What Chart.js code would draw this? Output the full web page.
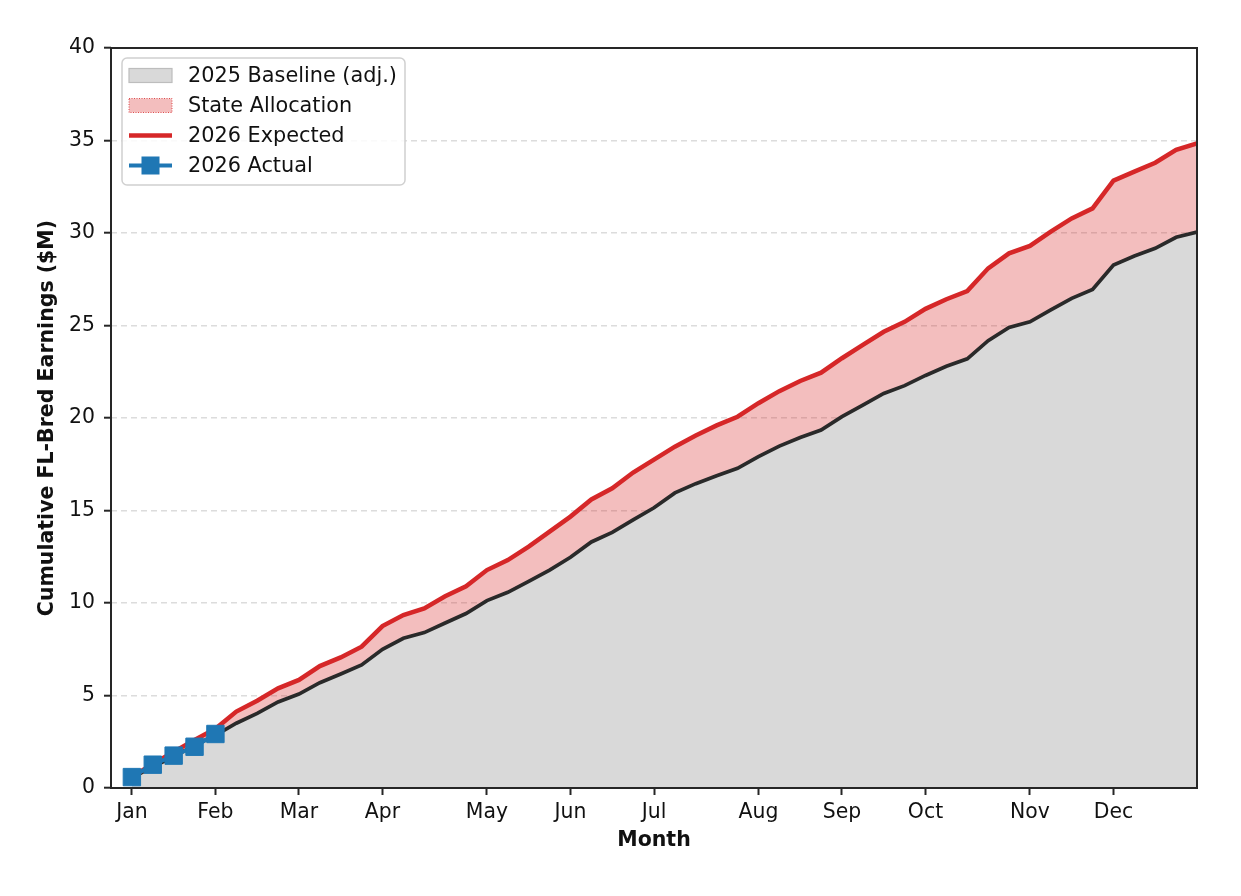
<!DOCTYPE html>
<html>
<head>
<meta charset="utf-8">
<script src="https://cdn.jsdelivr.net/npm/chart.js@4"></script>
<style>
  html,body{margin:0;padding:0;background:#fff;}
  #wrap{width:1241px;height:896px;position:relative;}
</style>
</head>
<body>
<div id="wrap"><canvas id="chart"></canvas></div>
<script>
/* ---------- data (weekly, cumulative $M) ---------- */
const monthTicks  = [0,4,8,12,17,21,25,30,34,38,43,47];
const monthLabels = ['Jan','Feb','Mar','Apr','May','Jun','Jul','Aug','Sep','Oct','Nov','Dec'];

const baseline = [0.55,1.15,1.7,2.3,2.85,3.5,4.03,4.65,5.08,5.69,6.16,6.65,7.5,8.09,8.4,8.92,
  9.43,10.13,10.58,11.17,11.78,12.47,13.3,13.82,14.49,15.15,15.95,16.45,16.88,17.28,17.91,18.48,
  18.95,19.35,20.07,20.7,21.33,21.75,22.3,22.8,23.2,24.18,24.9,25.2,25.84,26.47,26.95,28.27,
  28.76,29.17,29.77,30.05];

const expected = [0.6,1.3,1.95,2.6,3.2,4.13,4.72,5.39,5.84,6.59,7.06,7.64,8.75,9.35,9.71,10.36,
  10.9,11.78,12.32,13.05,13.86,14.67,15.6,16.2,17.05,17.75,18.45,19.05,19.6,20.07,20.8,21.45,
  22.0,22.45,23.23,23.95,24.66,25.2,25.9,26.42,26.86,28.09,28.9,29.3,30.07,30.79,31.33,32.83,
  33.32,33.8,34.49,34.85];

const actual = [0.59,1.26,1.75,2.23,2.92];

const legendLabels = ['2025 Baseline (adj.)','State Allocation','2026 Expected','2026 Actual'];

/* ---------- colours ---------- */
const col = {
  grey:'#d9d9d9', greyEdge:'#bdbdbd',
  pink:'rgba(214,39,40,0.3)',
  red:'#d62728', blue:'#1f77b4', black:'#2a2a2a',
  grid:'#dcdcdc', spine:'#262626', text:'#111'
};

const pts = arr => arr.map((v,i)=>({x:i,y:v}));

/* axes frame (all four spines) */
const frame = {
  id:'frame',
  afterDatasetsDraw(chart){
    const {ctx,chartArea:a} = chart;
    ctx.save();
    ctx.strokeStyle = col.spine; ctx.lineWidth = 2;
    ctx.strokeRect(a.left,a.top,a.right-a.left,a.bottom-a.top);
    ctx.restore();
  }
};

/* matplotlib-style legend inside the plot, upper left */
const boxLegend = {
  id:'boxLegend',
  afterDraw(chart){
    const {ctx,chartArea:a} = chart;
    const x0 = a.left+11, y0 = a.top+10, w = 283, h = 127;
    ctx.save();
    ctx.beginPath();
    ctx.roundRect(x0,y0,w,h,5);
    ctx.fillStyle = 'rgba(255,255,255,0.85)'; ctx.fill();
    ctx.strokeStyle = '#d0d0d0'; ctx.lineWidth = 1.5; ctx.stroke();

    const hx = a.left+18, hw = 43, tx = a.left+77;
    const rows = [y0+17.5, y0+47.5, y0+77.5, y0+107.5];

    // baseline patch
    ctx.fillStyle = col.grey; ctx.fillRect(hx,rows[0]-7,hw,14);
    ctx.strokeStyle = col.greyEdge; ctx.lineWidth = 1.2; ctx.strokeRect(hx,rows[0]-7,hw,14);
    // state allocation patch
    ctx.fillStyle = col.pink; ctx.fillRect(hx,rows[1]-7,hw,14);
    ctx.setLineDash([1,1.5]); ctx.strokeStyle = col.red; ctx.lineWidth = 0.8;
    ctx.strokeRect(hx,rows[1]-7,hw,14); ctx.setLineDash([]);
    // expected line
    ctx.strokeStyle = col.red; ctx.lineWidth = 4.5;
    ctx.beginPath(); ctx.moveTo(hx,rows[2]); ctx.lineTo(hx+hw,rows[2]); ctx.stroke();
    // actual line + square
    ctx.strokeStyle = col.blue; ctx.lineWidth = 4;
    ctx.beginPath(); ctx.moveTo(hx,rows[3]); ctx.lineTo(hx+hw,rows[3]); ctx.stroke();
    ctx.fillStyle = col.blue; ctx.fillRect(hx+hw/2-9,rows[3]-9,18,18);

    ctx.fillStyle = col.text;
    ctx.font = '20.8px "DejaVu Sans"';
    ctx.textBaseline = 'middle';
    legendLabels.forEach((t,i)=>ctx.fillText(t,tx,rows[i]+1));
    ctx.restore();
  }
};

Chart.defaults.font.family = '"DejaVu Sans", sans-serif';
Chart.defaults.color = col.text;

new Chart(document.getElementById('chart'),{
  type:'line',
  data:{
    datasets:[
      {label:legendLabels[0], data:pts(baseline), borderColor:col.black, borderWidth:3.7,
       backgroundColor:col.grey, fill:'origin', pointRadius:0, tension:0, order:2},
      {label:legendLabels[2], data:pts(expected), borderColor:col.red, borderWidth:4.5,
       backgroundColor:col.pink, fill:'-1', pointRadius:0, tension:0, order:1},
      {label:legendLabels[3], data:pts(actual), borderColor:col.blue, borderWidth:4,
       backgroundColor:col.blue, fill:false, pointStyle:'rect', pointRadius:12.3,
       pointBorderWidth:1, pointBorderColor:col.blue, tension:0, order:0}
    ]
  },
  options:{
    responsive:true, maintainAspectRatio:false, animation:false,
    layout:{padding:{left:0,top:48,right:44,bottom:0}},
    plugins:{
      legend:{display:false}, tooltip:{enabled:false},
      filler:{drawTime:'beforeDatasetsDraw'}
    },
    scales:{
      x:{
        type:'linear', min:-1, max:51,
        afterBuildTicks: s => { s.ticks = monthTicks.map(v=>({value:v})); },
        afterFit: s => { s.height = 108; },
        ticks:{autoSkip:false, maxRotation:0, padding:5, font:{size:20.4},
               callback:(v,i)=>monthLabels[i]},
        grid:{drawOnChartArea:false, drawTicks:true, tickLength:7, tickWidth:2, tickColor:col.spine},
        border:{display:false},
        title:{display:true, text:'Month', font:{size:20.5, weight:'bold'}, padding:{top:0,bottom:43}}
      },
      y:{
        min:0, max:40,
        afterFit: s => { s.width = 111; },
        ticks:{stepSize:5, padding:9, font:{size:20.4}},
        grid:{color:col.grid, lineWidth:1.4, drawTicks:true, tickLength:7, tickWidth:2,
              tickColor:col.spine, tickBorderDash:[]},
        border:{display:false, dash:[6,4]},
        title:{display:true, text:'Cumulative FL-Bred Earnings ($M)',
               font:{size:20.5, weight:'bold'}, padding:{top:35,bottom:0}}
      }
    }
  },
  plugins:[frame, boxLegend]
});
</script>
</body>
</html>
